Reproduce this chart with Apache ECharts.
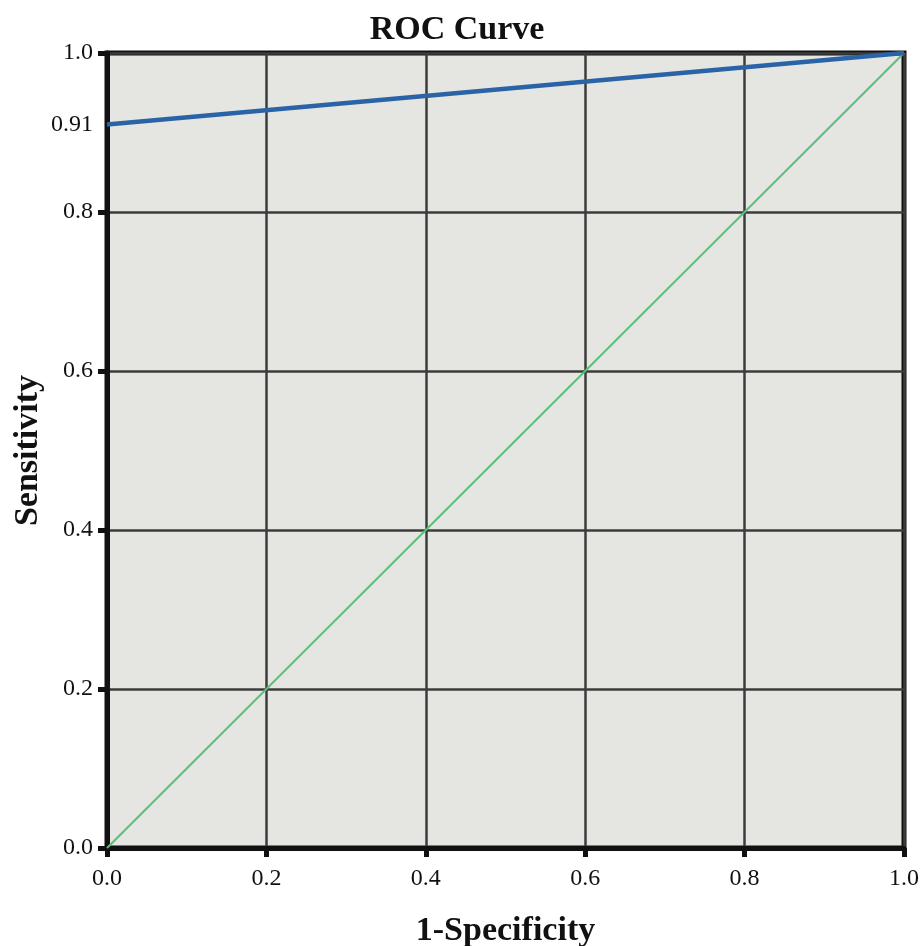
<!DOCTYPE html>
<html>
<head>
<meta charset="utf-8">
<script src="https://cdn.jsdelivr.net/npm/echarts@6/dist/echarts.min.js"></script>
<style>
  html, body { margin: 0; padding: 0; background: #fff; }
  #chart { width: 921px; height: 946px; }
</style>
</head>
<body>
<div id="chart"></div>
<script>
// ROC curve points (1-specificity, sensitivity)
var rocX = [0, 1];
var rocY = [0.91, 1];
// reference diagonal
var refX = [0, 1];
var refY = [0, 1];
var yExtraLabels = [0.91];

var serif = '"Liberation Serif", "DejaVu Serif", serif';

var chart = echarts.init(document.getElementById('chart'));

var option = {
  backgroundColor: '#ffffff',
  animation: false,
  title: {
    text: 'ROC Curve',
    left: 452,
    textAlign: 'center',
    top: 8,
    textStyle: { fontFamily: serif, fontWeight: 'bold', fontSize: 34, color: '#111' }
  },
  grid: {
    left: 107, right: 17, top: 53, bottom: 98,
    outerBoundsMode: 'none',
    containLabel: false,
    show: true,
    backgroundColor: '#e5e6e2',
    borderColor: '#111',
    borderWidth: 5
  },
  xAxis: {
    type: 'value',
    min: 0, max: 1, interval: 0.2,
    name: '1-Specificity',
    nameLocation: 'middle',
    nameGap: 66,
    nameTextStyle: { fontFamily: serif, fontWeight: 'bold', fontSize: 34, color: '#111' },
    axisLine: { show: true, lineStyle: { color: '#111', width: 5 } },
    axisTick: { show: true, inside: false, length: 9, lineStyle: { color: '#111', width: 5 } },
    axisLabel: {
      fontFamily: serif, fontSize: 24, color: '#111', margin: 19,
      formatter: function (v) { return v.toFixed(1); }
    },
    splitLine: { show: true, lineStyle: { color: '#3c3c3c', width: 2.5 } }
  },
  yAxis: [{
    type: 'value',
    min: 0, max: 1, interval: 0.2,
    name: 'Sensitivity',
    nameLocation: 'middle',
    nameGap: 62,
    nameRotate: 90,
    nameTextStyle: { fontFamily: serif, fontWeight: 'bold', fontSize: 34, color: '#111' },
    axisLine: { show: true, lineStyle: { color: '#111', width: 5 } },
    axisTick: { show: true, inside: false, length: 9, lineStyle: { color: '#111', width: 5 } },
    axisLabel: {
      fontFamily: serif, fontSize: 24, color: '#111', margin: 14,
      formatter: function (v) { return v.toFixed(1); }
    },
    splitLine: { show: true, lineStyle: { color: '#3c3c3c', width: 2.5 } }
  }, {
    type: 'value',
    position: 'left',
    min: 0, max: 1,
    axisLine: { show: false },
    axisTick: { show: false },
    splitLine: { show: false },
    axisLabel: {
      fontFamily: serif, fontSize: 24, color: '#111', margin: 14,
      customValues: yExtraLabels,
      formatter: function (v) { return String(v); }
    }
  }],
  series: [{
    type: 'line',
    data: refX.map(function (x, i) { return [x, refY[i]]; }),
    showSymbol: false,
    lineStyle: { color: '#5cbf7c', width: 2 },
    z: 3
  }, {
    type: 'line',
    data: rocX.map(function (x, i) { return [x, rocY[i]]; }),
    showSymbol: false,
    lineStyle: { color: '#2a64a6', width: 4.5 },
    z: 4
  }]
};

chart.setOption(option);
</script>
</body>
</html>
